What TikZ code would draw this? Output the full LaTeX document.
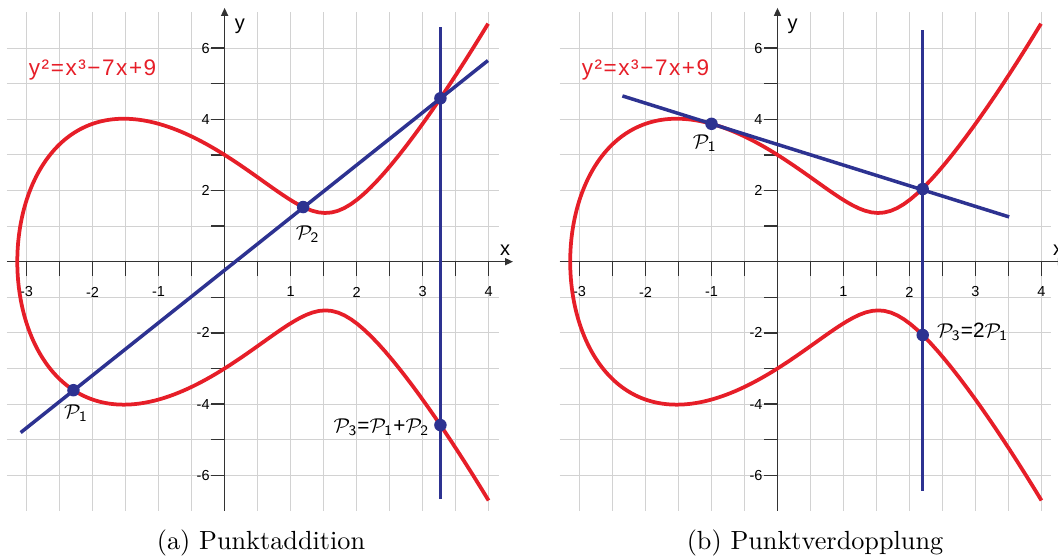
\documentclass[tikz,border=0pt]{standalone}
\usepackage{fontspec}
\newfontfamily\labfont{Liberation Sans}
\newfontfamily\eqfont[LetterSpace=7]{Liberation Sans}
\usetikzlibrary{arrows.meta}
\definecolor{cred}{HTML}{E61E28}
\definecolor{cblue}{HTML}{2D3291}
\definecolor{cgrid}{HTML}{D2D2D2}
\definecolor{caxis}{HTML}{333333}
\newcommand\calP[1]{\ensuremath{\mathcal{P}_{\mathsf{#1}}}}
\tikzset{
  gridline/.style={draw=cgrid, line width=0.45pt},
  axisline/.style={draw=caxis, line width=0.6pt},
  axisarrow/.style={axisline, -{Triangle[length=3.2pt,width=2.8pt]}},
  ticklab/.style={font=\labfont\fontsize{5.8}{7}\selectfont, text=black, inner sep=0pt},
  axlab/.style={font=\labfont\fontsize{8}{9}\selectfont, text=black, inner sep=0pt},
  eqlab/.style={font=\eqfont\fontsize{9}{10}\selectfont, text=cred, inner sep=0pt, anchor=base},
  curveline/.style={draw=cred, line width=1.5pt, line join=round},
  bline/.style={draw=cblue, line width=1.4pt},
  dot/.style={circle, fill=cblue, inner sep=0pt, minimum size=5pt},
  plab/.style={font=\fontsize{8.3}{10}\selectfont, text=black, inner sep=0pt},
  caption/.style={font=\fontsize{10.5}{12}\selectfont, inner sep=0pt, anchor=base},
  declare function={gg(\x)=\x*\x-3.1409*\x+2.8652;}
}
\newcommand\ecframe{%
  \foreach \i in {-3,-2.5,...,4} \draw[gridline] (\i,-7) -- (\i,7);
  \foreach \j in {-6,...,6} \draw[gridline] (-3.3,\j) -- (4.15,\j);
  \draw[axisarrow] (-3.3,0) -- (4.37,0);
  \draw[axisarrow] (0,-7) -- (0,7.13);
  \foreach \i in {-3,-2.5,...,-0.5} \draw[axisline] (\i,0) -- (\i,-0.4);
  \foreach \i in {0.5,1,...,4} \draw[axisline] (\i,0) -- (\i,-0.4);
  \foreach \j in {-6,...,-1} \draw[axisline] (0,\j) -- (-0.21,\j);
  \foreach \j in {1,...,6} \draw[axisline] (0,\j) -- (-0.21,\j);
  \foreach \i in {-3,-2,-1,1,2,3,4} \node[ticklab] at (\i,-0.85) {\i};
  \foreach \j in {-6,-4,-2,2,4,6} \node[ticklab, anchor=east] at (-0.22,\j) {\j};
  \node[axlab] at (4.25,0.33) {x};
  \node[axlab] at (0.23,6.61) {y};
  \draw[curveline] plot[domain=-2.6722:2.6722, samples=241, variable=\t]
     ({-3.1409+\t*\t},{\t*sqrt(gg(-3.1409+\t*\t))});
}
\begin{document}
\begin{tikzpicture}
\useasboundingbox (0,0) rectangle (423.2pt,223.6pt);
% ---------- (a) Punktaddition ----------
\begin{scope}[shift={(89.84pt,118.92pt)}, x=26.4pt, y=14.24pt]
  \ecframe
  \node[eqlab] (eqa) at (-2.0,5.22) {y²=x³−7x+9};
  \coordinate (la1) at (-3.09,-4.80);
  \coordinate (la2) at (3.99,5.65);
  \coordinate (va1) at (3.27,-6.67);
  \coordinate (va2) at (3.27,6.6);
  \draw[bline] (la1) -- (la2);
  \draw[bline] (va1) -- (va2);
  \node[dot] (aP1) at (-2.29,-3.61) {};
  \node[dot] (aP2) at (1.19,1.535) {};
  \node[dot] (aR) at (3.27,4.59) {};
  \node[dot] (aP3) at (3.27,-4.59) {};
  \node[plab, anchor=base] (aL1) at (-2.25,-4.40) {\calP1};
  \node[plab, anchor=base] (aL2) at (1.26,0.61) {\calP2};
  \node[plab, anchor=base east] (aL3) at (3.11,-4.80) {\calP3{\labfont=}\calP1{\labfont+}\calP2};
\end{scope}
% ---------- (b) Punktverdopplung ----------
\begin{scope}[shift={(311pt,118.92pt)}, x=26.4pt, y=14.24pt]
  \ecframe
  \node[eqlab] (eqb) at (-2.0,5.24) {y²=x³−7x+9};
  \coordinate (lb1) at (-2.35,4.656);
  \coordinate (lb2) at (3.51,1.257);
  \coordinate (vb1) at (2.2,-6.43);
  \coordinate (vb2) at (2.2,6.5);
  \draw[bline] (lb1) -- (lb2);
  \draw[bline] (vb1) -- (vb2);
  \node[dot] (bP1) at (-1,3.873) {};
  \node[dot] (bR) at (2.2,2.04) {};
  \node[dot] (bP3) at (2.2,-2.06) {};
  \node[plab, anchor=base] (bL1) at (-1.1,3.19) {\calP1};
  \node[plab, anchor=base west] (bL3) at (2.41,-2.12) {\calP3{\labfont=2}\calP1};
\end{scope}
\node[caption] (capa) at (104.4pt,3.6pt) {(a) Punktaddition};
\node[caption] (capb) at (326pt,3.6pt) {(b) Punktverdopplung};
\end{tikzpicture}
\end{document}
